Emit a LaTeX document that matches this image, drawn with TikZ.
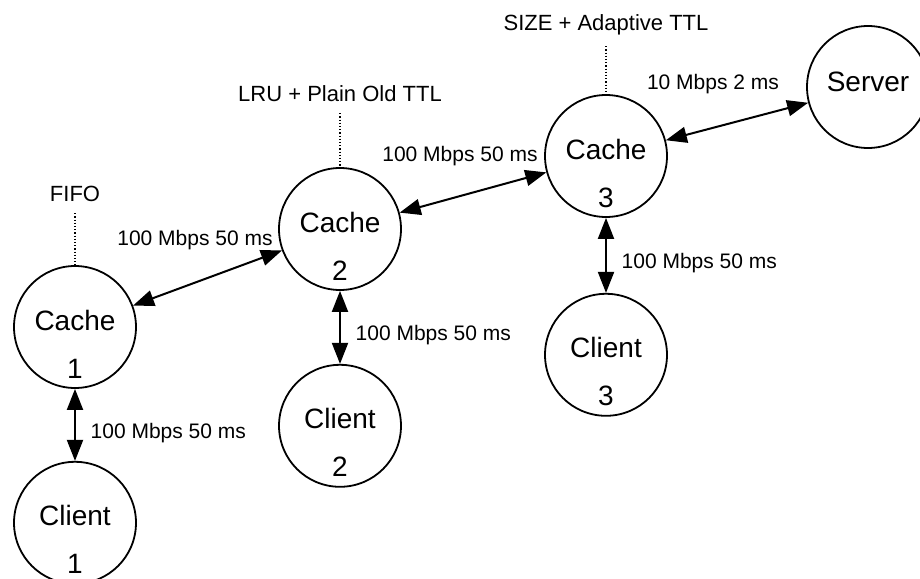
\documentclass[tikz,border=0pt]{standalone}
\usepackage{fontspec}
\setmainfont{Liberation Sans}
\usetikzlibrary{positioning,arrows.meta}

\begin{document}
\begin{tikzpicture}[x=0.5pt, y=-0.5pt, every node/.style={font=\fontsize{10.5}{12.6}\selectfont},
  host/.style={draw, circle, line width=0.9pt, minimum size=61pt, inner sep=0pt},
  hostname/.style={align=center, inner sep=0pt, font=\fontsize{14}{17}\selectfont},
  link/.style={<->, >={Triangle[length=10.5pt,width=8pt]}, line width=1pt},
  policy/.style={font=\fontsize{11}{13}\selectfont},
  policyline/.style={densely dotted, line width=0.6pt, shorten <=2pt}]
\useasboundingbox (0,0) rectangle (920,578);

% caches and server
\node[host] (cache1) at (75,327) {};
\node[host] (cache2) at (340,229) {};
\node[host] (cache3) at (606,156) {};
\node[host] (server) at (868,87) {};

% one client under each cache
\node[host, below=36pt of cache1] (client1) {};
\node[host, below=36.5pt of cache2] (client2) {};
\node[host, below=37.5pt of cache3] (client3) {};

\node[hostname] (cache1name) at ([yshift=-8.5pt]cache1.center) {Cache\\[7pt]1};
\node[hostname] (cache2name) at ([yshift=-8.5pt]cache2.center) {Cache\\[7pt]2};
\node[hostname] (cache3name) at ([yshift=-8.5pt]cache3.center) {Cache\\[7pt]3};
\node[hostname] (client1name) at ([yshift=-8.5pt]client1.center) {Client\\[7pt]1};
\node[hostname] (client2name) at ([yshift=-8.5pt]client2.center) {Client\\[7pt]2};
\node[hostname] (client3name) at ([yshift=-8.5pt]client3.center) {Client\\[7pt]3};
\node[hostname] (servername) at ([yshift=2.5pt]server.center) {Server};

% replacement policy of each cache
\node[policy, above=28pt of cache1] (policy1) {FIFO};
\node[policy, above=29pt of cache2] (policy2) {LRU + Plain Old TTL};
\node[policy, above=26pt of cache3] (policy3) {SIZE + Adaptive TTL};
\draw[policyline] (policy1) -- (cache1);
\draw[policyline] (policy2) -- (cache2);
\draw[policyline] (policy3) -- (cache3);

% links
\draw[link] (cache1) -- (cache2);
\draw[link] (cache2) -- (cache3);
\draw[link] (cache3) -- (server);
\draw[link] (cache1) -- node[pos=0.62, right=4pt] (bwc1) {100 Mbps 50 ms} (client1);
\draw[link] (cache2) -- node[pos=0.6, right=4pt] (bwc2) {100 Mbps 50 ms} (client2);
\draw[link] (cache3) -- node[pos=0.6, right=4pt] (bwc3) {100 Mbps 50 ms} (client3);
\node (bw12) at (195,240) {100 Mbps 50 ms};
\node (bw23) at (460,156) {100 Mbps 50 ms};
\node (bw3s) at (713,84) {10 Mbps 2 ms};
\end{tikzpicture}
\end{document}
